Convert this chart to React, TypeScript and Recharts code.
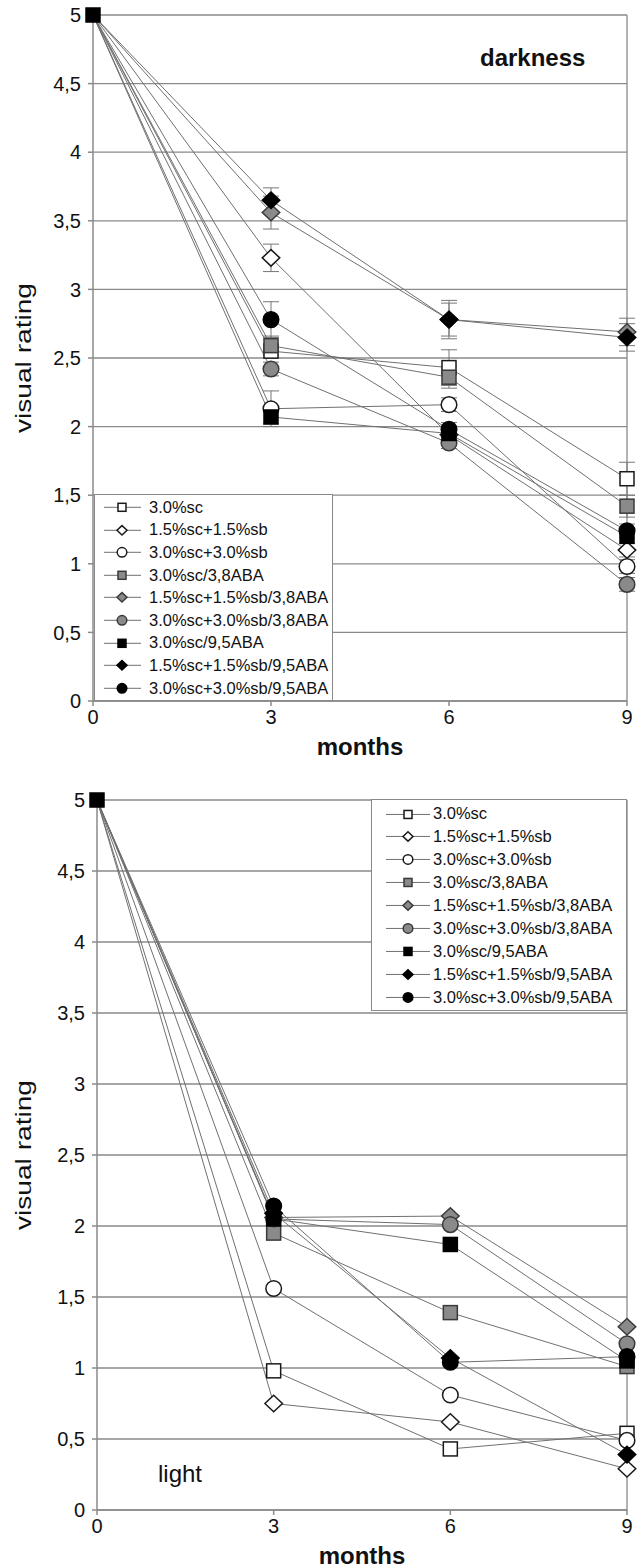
import React from "react";
import {
  LineChart,
  Line,
  XAxis,
  YAxis,
  CartesianGrid,
  ReferenceLine,
  ErrorBar,
} from "recharts";

const months = [0, 3, 6, 9];
const yTicks = [0, 0.5, 1, 1.5, 2, 2.5, 3, 3.5, 4, 4.5, 5];

const seriesNames = [
  "3.0%sc",
  "1.5%sc+1.5%sb",
  "3.0%sc+3.0%sb",
  "3.0%sc/3,8ABA",
  "1.5%sc+1.5%sb/3,8ABA",
  "3.0%sc+3.0%sb/3,8ABA",
  "3.0%sc/9,5ABA",
  "1.5%sc+1.5%sb/9,5ABA",
  "3.0%sc+3.0%sb/9,5ABA",
];

// darkness
const darkSc = [5, 2.55, 2.43, 1.62];
const darkScSb15 = [5, 3.23, 1.94, 1.1];
const darkScSb30 = [5, 2.13, 2.16, 0.98];
const darkSc38 = [5, 2.59, 2.36, 1.42];
const darkScSb15_38 = [5, 3.56, 2.78, 2.69];
const darkScSb30_38 = [5, 2.42, 1.88, 0.85];
const darkSc95 = [5, 2.07, 1.95, 1.2];
const darkScSb15_95 = [5, 3.65, 2.78, 2.65];
const darkScSb30_95 = [5, 2.78, 1.98, 1.24];

// darkness, error bars (+/-)
const darkScErr = [0, 0.05, 0.13, 0.12];
const darkScSb15Err = [0, 0.1, 0.05, 0.05];
const darkScSb30Err = [0, 0.13, 0.05, 0.05];
const darkSc38Err = [0, 0.07, 0.08, 0.08];
const darkScSb15_38Err = [0, 0.12, 0.12, 0.1];
const darkScSb30_38Err = [0, 0.05, 0.04, 0.05];
const darkSc95Err = [0, 0.05, 0.05, 0.05];
const darkScSb15_95Err = [0, 0.09, 0.14, 0.1];
const darkScSb30_95Err = [0, 0.13, 0.05, 0.05];

// light
const lightSc = [5, 0.98, 0.43, 0.54];
const lightScSb15 = [5, 0.75, 0.62, 0.29];
const lightScSb30 = [5, 1.56, 0.81, 0.49];
const lightSc38 = [5, 1.95, 1.39, 1.01];
const lightScSb15_38 = [5, 2.06, 2.07, 1.29];
const lightScSb30_38 = [5, 2.05, 2.01, 1.17];
const lightSc95 = [5, 2.05, 1.87, 1.05];
const lightScSb15_95 = [5, 2.09, 1.07, 0.39];
const lightScSb30_95 = [5, 2.14, 1.04, 1.08];

const darkSeries = [darkSc, darkScSb15, darkScSb30, darkSc38, darkScSb15_38, darkScSb30_38, darkSc95, darkScSb15_95, darkScSb30_95];
const darkErrors = [darkScErr, darkScSb15Err, darkScSb30Err, darkSc38Err, darkScSb15_38Err, darkScSb30_38Err, darkSc95Err, darkScSb15_95Err, darkScSb30_95Err];
const lightSeries = [lightSc, lightScSb15, lightScSb30, lightSc38, lightScSb15_38, lightScSb30_38, lightSc95, lightScSb15_95, lightScSb30_95];

const markerStyles = [
  { shape: "square", fill: "#fff", stroke: "#1a1a1a" },
  { shape: "diamond", fill: "#fff", stroke: "#1a1a1a" },
  { shape: "circle", fill: "#fff", stroke: "#1a1a1a" },
  { shape: "square", fill: "#8a8a8a", stroke: "#3a3a3a" },
  { shape: "diamond", fill: "#8a8a8a", stroke: "#3a3a3a" },
  { shape: "circle", fill: "#8a8a8a", stroke: "#3a3a3a" },
  { shape: "square", fill: "#000", stroke: "#000" },
  { shape: "diamond", fill: "#000", stroke: "#000" },
  { shape: "circle", fill: "#000", stroke: "#000" },
];

// the shared start point at month 0 shows only the black square
const START_MARKER = 6;

const FONT = "'Liberation Sans', Arial, sans-serif";
const GRID = "#8a8a8a";

function buildRows(series: number[][], errors?: number[][]) {
  return months.map((m, i) => {
    const row: Record<string, number> = { month: m };
    series.forEach((s, k) => {
      row[`s${k}`] = s[i];
      if (errors) row[`e${k}`] = errors[k][i];
    });
    return row;
  });
}

function Marker({ cx, cy, style, size }: any) {
  const { shape, fill, stroke } = style;
  if (shape === "square") {
    return (
      <rect x={cx - size / 2} y={cy - size / 2} width={size} height={size}
        fill={fill} stroke={stroke} strokeWidth={1.5} />
    );
  }
  if (shape === "diamond") {
    const w = size * 1.25;
    const h = size * 1.18;
    const pts = `${cx},${cy - h / 2} ${cx + w / 2},${cy} ${cx},${cy + h / 2} ${cx - w / 2},${cy}`;
    return <polygon points={pts} fill={fill} stroke={stroke} strokeWidth={1.5} />;
  }
  return <circle cx={cx} cy={cy} r={size / 2 + 0.8} fill={fill} stroke={stroke} strokeWidth={1.5} />;
}

const fmt = (v: number) => String(v).replace(".", ",");

type PanelProps = {
  rows: Record<string, number>[];
  withErrors: boolean;
  top: number;
  height: number;
  marginTop: number;
  yAxisWidth: number;
  xAxisHeight: number;
};

function Panel({ rows, withErrors, top, height, marginTop, yAxisWidth, xAxisHeight }: PanelProps) {
  return (
    <div style={{ position: "absolute", left: 0, top }}>
      <LineChart
        width={643}
        height={height}
        data={rows}
        margin={{ top: marginTop, right: 16, left: 0, bottom: 0 }}
      >
        <CartesianGrid vertical={false} stroke={GRID} strokeWidth={1.3} />
        <ReferenceLine x={9} stroke={GRID} strokeWidth={1.3} />
        <XAxis
          dataKey="month"
          type="number"
          domain={[0, 9]}
          ticks={months}
          height={xAxisHeight}
          stroke={GRID}
          strokeWidth={1.5}
          tickSize={5}
          tickMargin={4}
          tick={{ fill: "#111", fontSize: 20 }}
          label={{
            content: (p: any) => {
              const vb = p.viewBox;
              return (
                <text x={vb.x + vb.width / 2} y={vb.y + 54} textAnchor="middle"
                  fontSize={24} fontWeight="bold" fill="#111">
                  months
                </text>
              );
            },
          }}
        />
        <YAxis
          type="number"
          domain={[0, 5]}
          ticks={yTicks}
          width={yAxisWidth}
          stroke={GRID}
          strokeWidth={1.5}
          tickSize={5}
          tickMargin={7}
          tickFormatter={fmt}
          tick={{ fill: "#111", fontSize: 20 }}
          label={{
            content: (p: any) => {
              const vb = p.viewBox;
              return (
                <text
                  transform={`translate(23, ${vb.y + vb.height / 2}) rotate(-90)`}
                  textAnchor="middle"
                  dominantBaseline="central"
                  fontSize={22}
                  fill="#111"
                  textLength={150}
                  lengthAdjust="spacingAndGlyphs"
                >
                  visual rating
                </text>
              );
            },
          }}
        />
        {seriesNames.map((name, k) => (
          <Line
            key={name}
            name={name}
            dataKey={`s${k}`}
            type="linear"
            stroke="#707070"
            strokeWidth={1}
            isAnimationActive={false}
            activeDot={false}
            dot={(p: any) =>
              p.index === 0 && k !== START_MARKER ? (
                <g key={`${name}-${p.index}`} />
              ) : (
                <Marker key={`${name}-${p.index}`} cx={p.cx} cy={p.cy} style={markerStyles[k]} size={14} />
              )
            }
          >
            {withErrors && (
              <ErrorBar dataKey={`e${k}`} direction="y" width={8} stroke="#777" strokeWidth={1} />
            )}
          </Line>
        ))}
      </LineChart>
    </div>
  );
}

type LegendProps = {
  left: number;
  top: number;
  width: number;
  height: number;
  padTop: number;
  rowH: number;
  segLeft: number;
  segW: number;
  markerX: number;
  gap: number;
};

function LegendBox({ left, top, width, height, padTop, rowH, segLeft, segW, markerX, gap }: LegendProps) {
  return (
    <div
      style={{
        position: "absolute",
        left,
        top,
        width,
        height,
        boxSizing: "border-box",
        border: `1px solid ${GRID}`,
        background: "#fff",
        paddingTop: padTop,
        fontSize: 16.5,
        color: "#111",
      }}
    >
      {seriesNames.map((name, k) => (
        <div key={name} style={{ display: "flex", alignItems: "center", height: rowH, whiteSpace: "nowrap" }}>
          <svg width={segW} height={rowH} style={{ marginLeft: segLeft, marginRight: gap, flex: "none" }}>
            <line x1={0} x2={segW} y1={rowH / 2} y2={rowH / 2} stroke="#707070" strokeWidth={1} />
            <Marker cx={markerX} cy={rowH / 2} style={markerStyles[k]} size={8} />
          </svg>
          <span>{name}</span>
        </div>
      ))}
    </div>
  );
}

export default function App() {
  const darkRows = buildRows(darkSeries, darkErrors);
  const lightRows = buildRows(lightSeries);
  return (
    <div style={{ position: "absolute", left: 0, top: 0, width: 643, height: 1568, background: "#fff", fontFamily: FONT }}>
      <Panel rows={darkRows} withErrors top={0} height={780} marginTop={15} yAxisWidth={93} xAxisHeight={79} />
      <Panel rows={lightRows} withErrors={false} top={780} height={788} marginTop={20} yAxisWidth={97} xAxisHeight={58} />
      <LegendBox left={94} top={494} width={239} height={207} padTop={1} rowH={22.6} segLeft={9} segW={37} markerX={18} gap={8} />
      <LegendBox left={371} top={799} width={256} height={212} padTop={2.5} rowH={22.9} segLeft={14} segW={44} markerX={22} gap={3} />
      <svg width={643} height={1568} style={{ position: "absolute", left: 0, top: 0, pointerEvents: "none" }}>
        <text x={480} y={66} fontSize={24} fontWeight="bold" fill="#111" fontFamily={FONT}>darkness</text>
        <text x={158} y={1482} fontSize={24} fill="#111" fontFamily={FONT}>light</text>
      </svg>
    </div>
  );
}
